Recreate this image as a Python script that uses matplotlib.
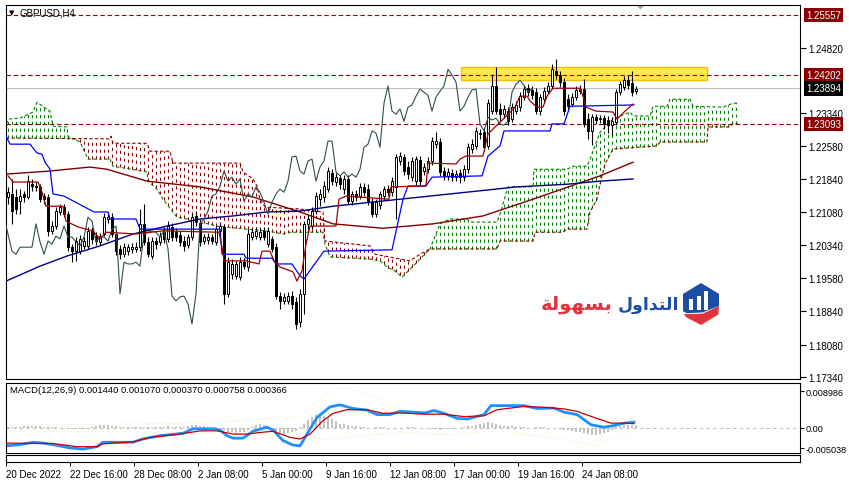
import numpy as np
import matplotlib
matplotlib.use('Agg')
import matplotlib.pyplot as plt
import matplotlib.transforms as mtransforms
from matplotlib.patches import Rectangle, Polygon

plt.rcParams['font.family'] = ['Liberation Sans', 'DejaVu Sans']

# ---- GBPUSD H4 candles ----
opens = [1.2143,1.2150,1.2143,1.2134,1.2150,1.2143,1.2172,1.2168,1.2166,1.2145,
         1.2143,1.2066,1.2077,1.2109,1.2120,1.2104,1.2029,1.2020,1.2020,1.2032,
         1.2032,1.2066,1.2054,1.2041,1.2059,1.2093,1.2097,1.2059,1.2025,1.2013,
         1.2020,1.2025,1.2025,1.2029,1.2082,1.2041,1.2009,1.2043,1.2041,1.2063,
         1.2048,1.2075,1.2063,1.2057,1.2043,1.2034,1.2052,1.2100,1.2084,1.2043,
         1.2045,1.2052,1.2041,1.2066,1.2075,1.1923,1.1968,1.1964,1.1961,1.1995,
         1.1984,1.2052,1.2054,1.2052,1.2066,1.2036,1.2048,1.2029,1.1918,1.1907,
         1.1907,1.1918,1.1905,1.1859,1.1923,1.2082,1.2077,1.2111,1.2138,1.2143,
         1.2161,1.2197,1.2177,1.2186,1.2161,1.2184,1.2134,1.2150,1.2145,1.2166,
         1.2161,1.2131,1.2104,1.2125,1.2145,1.2161,1.2154,1.2166,1.2225,1.2234,
         1.2211,1.2188,1.2179,1.2227,1.2202,1.2206,1.2225,1.2263,1.2268,1.2202,
         1.2191,1.2197,1.2188,1.2197,1.2188,1.2206,1.2252,1.2259,1.2286,1.2290,
         1.2259,1.2338,1.2395,1.2343,1.2331,1.2338,1.2320,1.2338,1.2347,1.2370,
         1.2390,1.2386,1.2381,1.2338,1.2365,1.2383,1.2395,1.2429,1.2420,1.2404,
         1.2365,1.2354,1.2370,1.2383,1.2388,1.2320,1.2293,1.2324,1.2320,1.2322,
         1.2318,1.2306,1.2313,1.2381,1.2393,1.2408,1.2402,1.2383]
closes = [1.2154,1.2111,1.2116,1.2145,1.2143,1.2179,1.2168,1.2166,1.2138,1.2138,
          1.2066,1.2077,1.2111,1.2120,1.2104,1.2029,1.2020,1.2043,1.2048,1.2043,
          1.2066,1.2048,1.2043,1.2054,1.2097,1.2097,1.2059,1.2020,1.2013,1.2029,
          1.2029,1.2029,1.2029,1.2082,1.2041,1.2013,1.2043,1.2036,1.2054,1.2048,
          1.2077,1.2052,1.2052,1.2041,1.2032,1.2052,1.2097,1.2088,1.2041,1.2052,
          1.2052,1.2043,1.2070,1.2077,1.1923,1.1995,1.1991,1.1991,1.1995,1.1986,
          1.2059,1.2063,1.2066,1.2063,1.2052,1.2066,1.2025,1.1918,1.1907,1.1916,
          1.1918,1.1900,1.1855,1.1923,1.2082,1.2093,1.2111,1.2145,1.2150,1.2168,
          1.2202,1.2179,1.2188,1.2172,1.2184,1.2134,1.2150,1.2143,1.2166,1.2154,
          1.2131,1.2104,1.2131,1.2150,1.2161,1.2154,1.2179,1.2234,1.2236,1.2202,
          1.2195,1.2225,1.2229,1.2179,1.2211,1.2225,1.2270,1.2270,1.2200,1.2191,
          1.2200,1.2188,1.2195,1.2188,1.2206,1.2256,1.2263,1.2293,1.2288,1.2256,
          1.2356,1.2395,1.2338,1.2331,1.2343,1.2315,1.2347,1.2352,1.2372,1.2388,
          1.2381,1.2374,1.2338,1.2370,1.2383,1.2395,1.2433,1.2420,1.2404,1.2338,
          1.2349,1.2370,1.2386,1.2388,1.2309,1.2293,1.2324,1.2318,1.2322,1.2309,
          1.2306,1.2315,1.2381,1.2399,1.2408,1.2397,1.2381,1.2389]
highs = [1.2166,1.2184,1.2161,1.2161,1.2156,1.2193,1.2184,1.2177,1.2172,1.2152,
         1.2150,1.2088,1.2120,1.2127,1.2127,1.2111,1.2036,1.2052,1.2057,1.2052,
         1.2075,1.2075,1.2063,1.2061,1.2107,1.2107,1.2107,1.2070,1.2034,1.2038,
         1.2036,1.2038,1.2041,1.2116,1.2127,1.2052,1.2052,1.2052,1.2063,1.2075,
         1.2088,1.2084,1.2072,1.2066,1.2054,1.2059,1.2107,1.2111,1.2093,1.2059,
         1.2061,1.2059,1.2079,1.2086,1.2082,1.2007,1.2002,1.1998,1.2007,1.2004,
         1.2070,1.2072,1.2075,1.2072,1.2075,1.2075,1.2054,1.2038,1.1927,1.1925,
         1.1927,1.1930,1.1916,1.1934,1.2088,1.2104,1.2120,1.2154,1.2161,1.2179,
         1.2211,1.2206,1.2197,1.2193,1.2193,1.2193,1.2156,1.2159,1.2175,1.2175,
         1.2172,1.2141,1.2138,1.2156,1.2168,1.2170,1.2188,1.2240,1.2245,1.2240,
         1.2225,1.2234,1.2236,1.2236,1.2220,1.2234,1.2279,1.2290,1.2277,1.2211,
         1.2209,1.2206,1.2204,1.2206,1.2215,1.2265,1.2275,1.2302,1.2297,1.2299,
         1.2365,1.2422,1.2438,1.2356,1.2352,1.2347,1.2356,1.2361,1.2381,1.2397,
         1.2399,1.2395,1.2390,1.2377,1.2393,1.2404,1.2445,1.2456,1.2429,1.2413,
         1.2377,1.2379,1.2395,1.2397,1.2411,1.2334,1.2331,1.2331,1.2329,1.2329,
         1.2327,1.2324,1.2388,1.2406,1.2418,1.2420,1.2429,1.2395]
lows = [1.2127,1.2082,1.2104,1.2104,1.2131,1.2138,1.2156,1.2156,1.2131,1.2127,
        1.2054,1.2059,1.2070,1.2102,1.2097,1.2020,1.1995,1.1998,1.2013,1.2025,
        1.2025,1.2036,1.2034,1.2034,1.2054,1.2084,1.2052,1.2011,1.2002,1.2007,
        1.2011,1.2016,1.2018,1.2020,1.2034,1.2007,1.2002,1.2025,1.2034,1.2038,
        1.2041,1.2043,1.2043,1.2032,1.2020,1.2027,1.2045,1.2077,1.2032,1.2036,
        1.2036,1.2036,1.2034,1.2057,1.1900,1.1916,1.1957,1.1957,1.1954,1.1979,
        1.1975,1.2045,1.2048,1.2045,1.2045,1.2029,1.2018,1.1911,1.1889,1.1900,
        1.1900,1.1889,1.1843,1.1848,1.1877,1.2070,1.2070,1.2104,1.2122,1.2131,
        1.2154,1.2170,1.2168,1.2161,1.2150,1.2127,1.2125,1.2134,1.2138,1.2145,
        1.2125,1.2097,1.2097,1.2116,1.2136,1.2145,1.2145,1.2093,1.2215,1.2193,
        1.2184,1.2179,1.2170,1.2170,1.2193,1.2197,1.2215,1.2254,1.2191,1.2181,
        1.2181,1.2179,1.2179,1.2175,1.2179,1.2197,1.2243,1.2252,1.2275,1.2247,
        1.2252,1.2331,1.2331,1.2315,1.2322,1.2306,1.2313,1.2331,1.2338,1.2363,
        1.2372,1.2365,1.2331,1.2329,1.2356,1.2377,1.2388,1.2411,1.2393,1.2329,
        1.2338,1.2347,1.2363,1.2377,1.2302,1.2275,1.2261,1.2309,1.2311,1.2297,
        1.2288,1.2284,1.2306,1.2374,1.2386,1.2388,1.2372,1.2377]

# ---- Ichimoku (vertices: bar index, price) ----
tenkan_idx = [0,1.25,7.5,8.5,9.5,13.75,14.5,17.5,21.25,23,24.5,32,38.75,52.75,53.5,54,59.5,62.75,63.5,
              65.5,66.5,68,71.25,72.25,73.5,74.5,75.5,82,82.75,84.5,95.25,95.75,104.5,105,112,113,114.5,
              118.75,120,122,124.25,126.75,128,129.75,130.5,132.25,133.75,134.75,136.25,143,143.75,144.5,
              147,151.25,152.25,154.25,156.25]
tenkan = [1.2191,1.2177,1.2177,1.2154,1.2122,1.2122,1.2088,1.2075,1.2066,1.2048,1.2063,1.2059,1.2066,
          1.2063,1.2029,1.1998,1.1998,1.1991,1.2020,1.2020,1.1998,1.1984,1.1973,1.1952,1.1975,1.2036,
          1.2077,1.2077,1.2138,1.2145,1.2138,1.2166,1.2168,1.2220,1.2218,1.2229,1.2236,1.2236,1.2286,
          1.2304,1.2324,1.2347,1.2372,1.2372,1.2361,1.2347,1.2347,1.2372,1.2390,1.2390,1.2372,1.2347,
          1.2338,1.2336,1.2320,1.2338,1.2354]
kijun_idx = [-0.5,0.5,5.5,7.25,8.5,9.25,10.5,11.25,14,21.5,25,25.5,32,33,53,53.5,59,59.5,66,67,71,73,
             74,79,96,98.75,100,104.5,106,118.5,120,123,124,135.5,136,139,140.5,156.5]
kijun = [1.2281,1.2263,1.2263,1.2243,1.2240,1.2222,1.2206,1.2150,1.2145,1.2109,1.2109,1.2093,1.2093,
         1.2070,1.2070,1.2013,1.2013,1.2004,1.2004,1.1991,1.1991,1.1964,1.1957,1.2020,1.2023,1.2138,
         1.2168,1.2168,1.2188,1.2191,1.2236,1.2259,1.2293,1.2293,1.2309,1.2309,1.2349,1.2352]
span_a_idx = [-0.5,0.25,3,6.25,7.25,8.75,10.5,11.25,14.75,15,18,20,25.5,26.25,34.75,35,37.25,38.75,
              41.25,42.25,44.75,46.25,50.25,52,59.75,64.75,68.75,70.5,78.75,79.25,80.5,90.5,93,94.75,
              96.75,98.5,100.5,103,105.5,108,110.5,114.75,115.5,122.25,123,125,131.25,131.5,139.75,
              141.25,144.75,145.5,148,151.25,155.5,156.25,160.5,161.25,164.75,165.5,170.5,171.25,
              178.75,181.25,182.5]
span_a = [1.2309,1.2320,1.2322,1.2336,1.2358,1.2349,1.2338,1.2304,1.2302,1.2281,1.2268,1.2229,1.2229,
          1.2213,1.2200,1.2179,1.2161,1.2138,1.2109,1.2097,1.2093,1.2086,1.2082,1.2077,1.2070,1.2066,
          1.2059,1.2063,1.2063,1.2036,1.2007,1.2002,1.1998,1.1984,1.1975,1.1961,1.1979,1.2002,1.2025,
          1.2082,1.2093,1.2093,1.2086,1.2086,1.2104,1.2166,1.2166,1.2206,1.2206,1.2213,1.2213,1.2229,
          1.2290,1.2320,1.2336,1.2327,1.2327,1.2349,1.2349,1.2365,1.2365,1.2349,1.2347,1.2356,1.2356]
span_b_idx = [-0.5,25.5,25.75,26.25,34.75,35.5,40.5,41.25,58,58.75,61.25,62.25,63,64.25,72.75,78.75,
              79.25,90.5,91.75,100.5,103,105.5,122.25,123,131.25,131.75,138.75,139.75,144.75,145.5,
              147.25,148,149.25,151.25,162.25,163,174.75,175,180.5,181,182.5]
span_b = [1.2277,1.2275,1.2281,1.2265,1.2265,1.2247,1.2247,1.2220,1.2220,1.2200,1.2184,1.2168,1.2138,
          1.2120,1.2116,1.2109,1.2043,1.2032,1.2013,1.1998,1.2013,1.2025,1.2025,1.2043,1.2043,1.2063,
          1.2063,1.2070,1.2070,1.2109,1.2138,1.2172,1.2218,1.2252,1.2259,1.2268,1.2268,1.2302,1.2302,
          1.2309,1.2309]
chikou_shift = 26

# ---- moving averages ----
ma_red_idx = [-0.5,10.5,20.5,24.75,34.75,48,61.25,73,81.25,93.75,106.25,118.75,131.25,148,156.25]
ma_red = [1.2195,1.2202,1.2211,1.2206,1.2179,1.2166,1.2143,1.2109,1.2082,1.2072,1.2082,1.2100,1.2138,
          1.2191,1.2222]
ma_navy_idx = [-0.5,8,14.75,23,31.25,39.75,48,56.25,64.75,73,81.25,98,114.75,127.25,139.75,148,156.25]
ma_navy = [1.1952,1.1986,1.2009,1.2032,1.2059,1.2077,1.2093,1.2100,1.2109,1.2111,1.2122,1.2138,1.2154,
           1.2166,1.2172,1.2179,1.2184]

# ---- levels ----
levels = [1.25557, 1.24202, 1.23093]
bid = 1.23894
zone_lo, zone_hi = 1.2408, 1.2438
zone_start, zone_end = 113.25, 174.75
price_ticks = [1.24820, 1.23340, 1.22580, 1.21840, 1.21080, 1.20340, 1.19580, 1.18840, 1.18080, 1.17340]

# ---- MACD(12,26,9) ----
macd_idx = [-0.5,3,6.25,8.75,11.25,15.5,18.75,22.25,23.75,31.25,33.75,38,43.75,46.25,51.25,53,54.75,
            56.25,58.75,61.25,64.75,66.25,68.75,71.25,73,74.75,77.25,80.5,83,86.25,89.75,92.25,95.5,98,
            104.25,106.5,109,112.25,114.75,119,120.75,129,132.25,136.5,139,142.25,145.75,149,151.5,154,
            156.5]
macd_main = [-0.0044,-0.0041,-0.0035,-0.0037,-0.0041,-0.0049,-0.0052,-0.0046,-0.0035,-0.0035,-0.0027,
             -0.0019,-0.0013,-0.0002,-0.0002,-0.0005,-0.0019,-0.0025,-0.0025,-0.0008,0.0002,-0.0005,
             -0.0031,-0.0042,-0.0044,-0.0015,0.0026,0.0052,0.0057,0.0048,0.0044,0.0033,0.0033,0.0041,
             0.0037,0.0043,0.0036,0.0024,0.0022,0.0033,0.0055,0.0055,0.0048,0.0049,0.0039,0.0033,0.0008,
             0.0002,0.0006,0.0012,0.00144]
signal_idx = [-0.5,6.25,11.25,17.25,22.25,23.75,31.25,35.5,43,48,52.25,56.25,59.75,63,66.25,70.5,73,
              75.5,78.75,81.25,84.75,89.75,93.75,98,104.25,109,114,119,122.25,129,134,139,142.25,146.5,
              150.75,154,156.5]
macd_signal = [-0.0037,-0.0038,-0.0038,-0.0046,-0.0046,-0.0039,-0.0034,-0.0023,-0.0015,-0.0007,-0.0007,
               -0.0015,-0.0015,-0.0011,-0.0008,-0.0023,-0.0027,-0.0015,0.0018,0.0036,0.0045,0.0045,
               0.0036,0.0037,0.0034,0.0034,0.0028,0.0030,0.0045,0.0053,0.0051,0.0047,0.0041,0.0026,
               0.0012,0.0012,0.00107]
macd_hist = [0.0002,0.0003,0.0002,0.0003,
             0.0005,0.0006,0.0005,0.0004,0.0004,
             0.0003,0.0003,0.0002,0.0002,0.0001,0.0001,
             -0.0001,-0.0002,-0.0003,-0.0003,-0.0002,-0.0001,0.0002,
             0.0005,0.0007,0.0008,0.0007,0.0005,
             0.0004,0.0003,0.0003,0.0002,0.0003,0.0003,0.0002,
             0.0002,0.0003,0.0002,0.0002,0.0003,0.0003,0.0004,0.0003,0.0002,0.0002,0.0003,
             0.0006,0.0008,0.0008,0.0006,
             0.0004,0.0003,0.0003,0.0002,0.0001,
             -0.0006,-0.0009,-0.0011,-0.0012,-0.0011,-0.0009,-0.0004,
             0.0003,0.0007,0.0009,0.0008,
             0.0002,-0.0006,-0.0010,-0.0013,-0.0014,-0.0013,-0.0011,-0.0008,
             0.0003,0.0010,
             0.0020,0.0027,0.0031,0.0032,0.0030,
             0.0026,0.0021,0.0016,
             0.0011,0.0009,0.0007,0.0005,0.0004,
             0.0003,0.0002,0.0001,0.0001,0.0002,0.0003,0.0002,0.0001,-0.0001,-0.0002,-0.0001,0.0001,
             0.0002,0.0002,0.0001,0.0001,
             -0.0001,-0.0002,-0.0003,-0.0003,-0.0004,-0.0003,-0.0002,-0.0002,-0.0001,0.0001,
             0.0003,0.0005,0.0006,0.0008,0.0011,0.0013,0.0015,0.0012,
             0.0010,0.0008,0.0006,0.0005,0.0004,0.0003,0.0003,0.0002,0.0001,0.0001,0.0002,0.0003,
             0.0002,0.0001,0.0000,-0.0001,
             -0.0003,-0.0005,-0.0006,-0.0008,-0.0010,-0.0011,-0.0013,
             -0.0015,-0.0016,-0.0016,-0.0015,-0.0013,-0.0010,
             -0.0004,0.0002,0.0005,0.0007,0.0008,0.0008,0.0007]
env_up_idx = [-0.5,48,63,73,78,83,88,95.5,103,115.5,123,130.5,143,156.5]
env_up = [0.0007,0.0012,0.0022,0.0027,0.0071,0.0101,0.0091,0.0059,0.0034,0.0022,0.0042,0.0037,0.0022,0.0022]
env_dn_idx = [-0.5,60.5,73,80.5,88,98,110.5,123,138,146.75,153,156.5]
env_dn = [-0.0007,-0.0012,-0.0027,-0.0027,-0.0020,-0.0010,-0.0017,-0.0007,-0.0027,-0.0044,-0.0022,-0.0012]
macd_ticks = [0.008986, 0.0, -0.005038]
macd_tick_labels = ['0.008986', '0.00', '-0.005038']

time_labels = ['20 Dec 2022', '22 Dec 16:00', '28 Dec 08:00', '2 Jan 08:00', '5 Jan 00:00',
               '9 Jan 16:00', '12 Jan 08:00', '17 Jan 00:00', '19 Jan 16:00', '24 Jan 08:00']
time_ticks = [-0.5, 15.5, 31.5, 47.5, 63.5, 79.5, 95.5, 111.5, 127.5, 143.5]

W, H = 849, 485
def box(x0, y0, x1, y1):
    return [x0 / W, 1 - y1 / H, (x1 - x0) / W, (y1 - y0) / H]

fig = plt.figure(figsize=(W / 100, H / 100), dpi=100)
fig.patch.set_facecolor('white')

XMIN, XMAX = -0.5, 198
ax = fig.add_axes(box(6, 6, 800, 380))
ax.set_xlim(XMIN, XMAX)
ax.set_ylim(1.17297, 1.2579)

# yellow zone + levels
ax.add_patch(Rectangle((zone_start, zone_lo), zone_end - zone_start, zone_hi - zone_lo,
                       facecolor='#ffe94a', edgecolor='#f0c000', lw=1.0, zorder=0.8))
for lv in levels:
    ax.axhline(lv, color='#990000', lw=0.8, ls=(0, (4, 2.5)), zorder=1.5)
ax.axhline(bid, color='#c0c0c0', lw=0.8, zorder=1.4)

# cloud hatch (one dotted stroke per bar)
bars_fwd = np.arange(0, 183)
sa = np.interp(bars_fwd, span_a_idx, span_a)
sb = np.interp(bars_fwd, span_b_idx, span_b)
green = sa >= sb
ax.vlines(bars_fwd[green], sb[green], sa[green], colors='#008000', lw=0.75,
          linestyles=(0, (3, 3.5)), zorder=1)
ax.vlines(bars_fwd[~green], sa[~green], sb[~green], colors='#8b0000', lw=0.75,
          linestyles=(0, (3, 3.5)), zorder=1)
ax.plot(span_a_idx, span_a, color='#008000', lw=0.8, ls=(0, (3, 2)), zorder=1.6)
ax.plot(span_b_idx, span_b, color='#8b0000', lw=0.8, ls=(0, (3, 2)), zorder=1.6)

# candles
idx = np.arange(len(closes))
o = np.array(opens); c = np.array(closes); h = np.array(highs); l = np.array(lows)
up = c >= o
ax.vlines(idx, l, h, color='black', lw=0.8, zorder=3)
bot = np.minimum(o, c); ht = np.abs(c - o)
ax.bar(idx[up], ht[up], bottom=bot[up], width=0.62, facecolor='white', edgecolor='black',
       linewidth=0.7, zorder=4)
ax.bar(idx[~up], ht[~up], bottom=bot[~up], width=0.62, facecolor='black', edgecolor='black',
       linewidth=0.7, zorder=4)

# indicator lines
ax.plot(ma_red_idx, ma_red, color='#800000', lw=1.0, zorder=5)
ax.plot(ma_navy_idx, ma_navy, color='#000080', lw=1.0, zorder=5)
ax.plot(idx - chikou_shift, closes, color='#2f4f4f', lw=0.8, zorder=5)
ax.plot(kijun_idx, kijun, color='#0000ff', lw=0.9, zorder=5.2)
ax.plot(tenkan_idx, tenkan, color='#a00000', lw=0.9, zorder=5.3)

# axes styling
ax.set_xticks([])
ax.yaxis.tick_right()
ax.set_yticks(price_ticks)
ax.set_yticklabels(['%.5f' % v for v in price_ticks])
ax.tick_params(axis='y', direction='out', length=4, pad=2, labelsize=7, width=0.8)
for s in ax.spines.values():
    s.set_linewidth(0.8)

trans = mtransforms.blended_transform_factory(ax.transAxes, ax.transData)
for val, bg in [(1.25557, '#8b0000'), (1.24202, '#8b0000'), (bid, 'black'), (1.23093, '#8b0000')]:
    ax.text(1.0075, val, '%.5f' % val, transform=trans, ha='left', va='center', fontsize=7,
            color='white', zorder=10, clip_on=False,
            bbox=dict(boxstyle='square,pad=0.22', facecolor=bg, edgecolor='none'))

# shift marker and title
ax.add_patch(Polygon([[0.7935, 1.0], [0.8045, 1.0], [0.799, 0.988]], closed=True,
                     transform=ax.transAxes, facecolor='#a8a8a8', edgecolor='none', clip_on=False))
fig.text(9 / W, 1 - 13.5 / H, '\u25BC', fontsize=5, va='center', ha='left', family=['DejaVu Sans'])
fig.text(19 / W, 1 - 13 / H, 'GBPUSD,H4', fontsize=7, va='center', ha='left')

# watermark logo
fig.text(679 / W, 1 - 305 / H, '\uFEDD\uFEED\uFE8D\uFEAA\uFE98\uFEDF\uFE8D', fontsize=12.5,
         fontweight='bold', color='#1c4fa3', ha='right', va='center', family=['DejaVu Sans'])
fig.text(612 / W, 1 - 305 / H, '\uFE94\uFEDF\uFEEE\uFEEC\uFEB4\uFE91', fontsize=14,
         fontweight='bold', color='#e2323c', ha='right', va='center', family=['DejaVu Sans'])
lg = fig.add_axes(box(683, 284, 719, 326))
lg.set_xlim(0, 1); lg.set_ylim(0, 1); lg.axis('off')
lg.add_patch(Polygon([[0.0, 0.74], [0.5, 1.0], [1.0, 0.74], [1.0, 0.45], [0.55, 0.30],
                      [0.1, 0.28], [0.0, 0.33]], closed=True, facecolor='#1c4fa3', edgecolor='none'))
for x0, top in [(0.18, 0.62), (0.38, 0.70), (0.58, 0.80)]:
    lg.add_patch(Rectangle((x0, 0.36), 0.11, top - 0.36, facecolor='white', edgecolor='none'))
lg.add_patch(Polygon([[0.02, 0.26], [0.55, 0.27], [1.0, 0.45], [0.98, 0.25], [0.5, 0.0],
                      [0.1, 0.18]], closed=True, facecolor='#e2323c', edgecolor='none'))

# MACD panel
ax2 = fig.add_axes(box(6, 384, 800, 454))
ax2.set_xlim(XMIN, XMAX)
ax2.set_ylim(-0.00615, 0.01107)
ax2.bar(idx, macd_hist, width=0.5, color='#c0c0c0', zorder=1)
ax2.axhline(0, color='#c0c0c0', lw=0.8, ls=(0, (3, 3)), zorder=0.5)
ax2.plot(env_up_idx, env_up, color='#f2eec0', lw=0.8, ls=':', zorder=1.5)
ax2.plot(env_dn_idx, env_dn, color='#f2eec0', lw=0.8, ls=':', zorder=1.5)
ax2.plot(macd_idx, macd_main, color='#1e90ff', lw=2.0, zorder=2)
ax2.plot(signal_idx, macd_signal, color='#c00000', lw=0.9, zorder=3)
ax2.set_xticks([])
ax2.yaxis.tick_right()
ax2.set_yticks(macd_ticks)
ax2.set_yticklabels(macd_tick_labels)
ax2.tick_params(axis='y', direction='out', length=3, pad=1, labelsize=6.6, width=0.8)
for s in ax2.spines.values():
    s.set_linewidth(0.8)
ax2.text(0.005, 0.9, 'MACD(12,26,9) 0.001440 0.001070 0.000370 0.000758 0.000366',
         transform=ax2.transAxes, fontsize=6.8, va='center', ha='left')

# time axis strip
ax3 = fig.add_axes(box(6, 456, 800, 463))
ax3.set_xlim(XMIN, XMAX)
ax3.set_yticks([])
ax3.set_xticks(time_ticks)
ax3.set_xticklabels(time_labels)
ax3.tick_params(axis='x', direction='out', length=3, pad=2, labelsize=7, width=0.8)
for lbl in ax3.get_xticklabels():
    lbl.set_ha('left')
for s in ax3.spines.values():
    s.set_linewidth(0.8)

fig.savefig('out.png', dpi=100)
